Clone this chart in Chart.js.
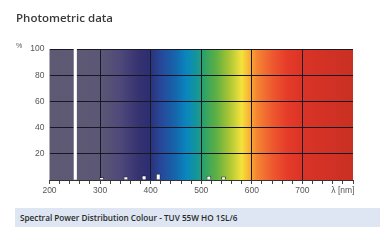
<!DOCTYPE html>
<html>
<head>
<meta charset="utf-8">
<script src="https://cdn.jsdelivr.net/npm/chart.js@4/dist/chart.umd.min.js"></script>
<style>
  html, body { margin: 0; padding: 0; background: #ffffff; width: 380px; height: 247px; overflow: hidden; }
  #wrap { position: relative; width: 380px; height: 247px; }
  #c { position: absolute; left: 0; top: 0; }
  #title { position: absolute; left: 16px; top: 10px; font: 600 11.5px "Open Sans", sans-serif; color: #3a3a3a; white-space: nowrap; }
  #pct { position: absolute; left: 16px; top: 42px; font: 7px "Liberation Sans", sans-serif; color: #555; }
  #foot { position: absolute; left: 15px; top: 208px; width: 365px; height: 19px; background: #dde6f2;
          font: 600 8.2px "Open Sans", sans-serif; color: #2a2a2a; line-height: 19px; padding-left: 5px; box-sizing: border-box; white-space: nowrap; }
</style>
</head>
<body>
<div id="wrap">
  <canvas id="c" width="380" height="200"></canvas>
  <div id="title">Photometric data</div>
  <div id="pct">%</div>
  <div id="foot">Spectral Power Distribution Colour - TUV 55W HO 1SL/6</div>
</div>
<script>
// ---- data ----
const mainLineNm = [251];
const mainLineVal = [100];
const peakNm = [303, 351, 387, 415, 515, 544];
const peakVal = [1.8, 2.5, 3.3, 4.6, 3.0, 2.5];
const xMin = 200, xMax = 800, xStep = 20;
const xLabelValues = [200, 300, 400, 500, 600, 700];
const xUnitLabel = 'λ [nm]';
const xUnitAt = 780;
const yTickValues = [20, 40, 60, 80, 100];

// ---- style: spectrum background stops (wavelength, colour) ----
const spectrumStops = [
  [200, '#5f5a73'], [300, '#5c5775'], [340, '#4e4979'], [375, '#373372'], [395, '#2d2e70'],
  [420, '#27479a'], [450, '#1567ac'], [470, '#0a86bf'], [490, '#12959c'], [505, '#2ca26a'],
  [530, '#5fb043'], [555, '#a9c534'], [580, '#f5e23c'], [595, '#f8b232'], [610, '#f58532'],
  [640, '#ee5a30'], [670, '#e63b29'], [700, '#da3327'], [800, '#c93022']
];

const spectrumPlugin = {
  id: 'spectrum',
  beforeDraw(chart) {
    const { ctx, chartArea: a, scales: { x } } = chart;
    const x0 = x.getPixelForValue(xMin), x1 = x.getPixelForValue(xMax);
    const g = ctx.createLinearGradient(x0, 0, x1, 0);
    spectrumStops.forEach(([nm, col]) => g.addColorStop((nm - xMin) / (xMax - xMin), col));
    ctx.save();
    ctx.fillStyle = g;
    ctx.fillRect(a.left, a.top, a.right - a.left, a.bottom - a.top);
    ctx.restore();
  }
};

const gridDark = '#17172a';

new Chart(document.getElementById('c'), {
  type: 'bar',
  data: {
    datasets: [
      {
        data: mainLineNm.map((v, i) => ({ x: v, y: mainLineVal[i] })),
        backgroundColor: '#ffffff',
        borderWidth: 0,
        barThickness: 2.5,
        grouped: false
      },
      {
        data: peakNm.map((v, i) => ({ x: v, y: peakVal[i] })),
        backgroundColor: '#ffffff',
        borderColor: '#2a2a3a',
        borderWidth: 0.8,
        barThickness: 4,
        grouped: false
      }
    ]
  },
  options: {
    responsive: false,
    animation: false,
    layout: { padding: { left: 0, right: 27, top: 49, bottom: 0 } },
    plugins: { legend: { display: false }, tooltip: { enabled: false } },
    scales: {
      x: {
        type: 'linear',
        min: xMin, max: xMax,
        offset: false,
        afterFit(s) { s.height = 20; },
        afterBuildTicks(s) {
          const t = [];
          for (let v = xMin; v <= xMax; v += xStep) t.push({ value: v });
          s.ticks = t;
        },
        ticks: {
          autoSkip: false, maxRotation: 0, padding: 2,
          color: '#555', font: { family: 'Liberation Sans', size: 8.5 },
          callback: (v) => v === xUnitAt ? xUnitLabel : (xLabelValues.includes(v) ? String(v) : '')
        },
        grid: {
          offset: false,
          color: (c) => (c.tick && c.tick.value % 100 === 0 && c.tick.value > xMin && c.tick.value < xMax) ? gridDark : 'rgba(0,0,0,0)',
          tickColor: '#444',
          tickLength: 4,
          lineWidth: 1
        },
        border: { display: true, color: '#333', width: 1 }
      },
      y: {
        min: 0, max: 100,
        afterFit(s) { s.width = 49.5; },
        afterBuildTicks(s) {
          s.ticks = [{ value: 0 }].concat(yTickValues.map(v => ({ value: v })));
        },
        ticks: {
          padding: 5,
          color: '#555', font: { family: 'Liberation Sans', size: 8.5 },
          callback: (v) => yTickValues.includes(v) ? String(v) : ''
        },
        grid: { offset: false, color: (c) => (c.tick && c.tick.value > 0) ? gridDark : 'rgba(0,0,0,0)', drawTicks: false, lineWidth: 1 },
        border: { display: false }
      }
    }
  },
  plugins: [spectrumPlugin]
});
</script>
</body>
</html>
